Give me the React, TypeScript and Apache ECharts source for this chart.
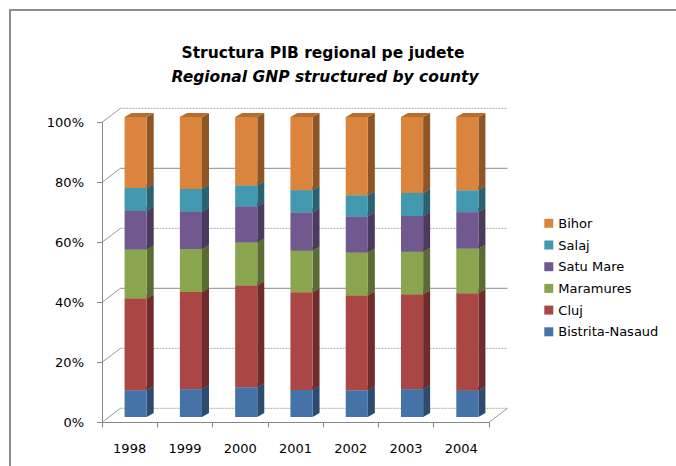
import React, { useEffect, useRef } from 'react';
import * as echarts from 'echarts';

const years = ['1998', '1999', '2000', '2001', '2002', '2003', '2004'];
const bistritaNasaud = [8.9, 9.3, 9.9, 9.0, 8.9, 9.3, 8.9];
const cluj = [30.6, 32.4, 33.9, 32.6, 31.6, 31.6, 32.5];
const maramures = [16.4, 14.3, 14.4, 13.9, 14.3, 14.2, 14.9];
const satuMare = [12.9, 12.4, 12.0, 12.7, 12.0, 11.9, 12.2];
const salaj = [7.6, 7.6, 7.0, 7.5, 7.1, 7.7, 7.3];
const bihor = [23.7, 24.0, 22.8, 24.4, 26.1, 25.3, 24.5];
const yTicks = [0, 0.2, 0.4, 0.6, 0.8, 1];
const legendOrder = ['Bihor', 'Salaj', 'Satu Mare', 'Maramures', 'Cluj', 'Bistrita-Nasaud'];

const seriesDefs = [
  { name: 'Bistrita-Nasaud', values: bistritaNasaud, front: '#4572a7', side: '#2d4a6f', top: '#3a5f8c' },
  { name: 'Cluj', values: cluj, front: '#aa4643', side: '#6e2d2c', top: '#8c3a37' },
  { name: 'Maramures', values: maramures, front: '#89a54e', side: '#5a6c33', top: '#718841' },
  { name: 'Satu Mare', values: satuMare, front: '#71588f', side: '#4a3a5e', top: '#5d4976' },
  { name: 'Salaj', values: salaj, front: '#4198af', side: '#2a6272', top: '#367d90' },
  { name: 'Bihor', values: bihor, front: '#db843d', side: '#8e5527', top: '#b86c30' },
];

const FONT = 'DejaVu Sans';
const WALL_DX = 18.5;
const WALL_DY = -14;
const BAR_DX = 6;
const BAR_DY = -5.3;
const SIDE_DX = 7;
const SIDE_DY = -4;

export default function App() {
  const ref = useRef<HTMLDivElement>(null);

  useEffect(() => {
    document.body.style.margin = '0';
    if (!ref.current) return;
    const chart = echarts.init(ref.current, null, { renderer: 'svg' });

    const totals = years.map((_, i) => seriesDefs.reduce((s, d) => s + d.values[i], 0));
    const cum = years.map(() => 0);
    const barSeries = seriesDefs.map((d) => {
      const data = d.values.map((v, i) => {
        const lo = cum[i] / totals[i];
        cum[i] += v;
        const hi = cum[i] / totals[i];
        return [i, lo, hi];
      });
      return {
        type: 'custom',
        name: d.name,
        coordinateSystem: 'cartesian2d',
        itemStyle: { color: d.front },
        z: 3,
        encode: { x: 0, y: [1, 2] },
        data,
        renderItem: (params: any, api: any) => {
          const cat = api.value(0);
          const lo = api.value(1);
          const hi = api.value(2);
          const pLo = api.coord([cat, lo]);
          const pHi = api.coord([cat, hi]);
          const w = api.size([1, 0])[0] * 0.4;
          const cx = pLo[0] + BAR_DX;
          const x0 = cx - w / 2;
          const x1 = cx + w / 2;
          const yb = pLo[1] + BAR_DY;
          const yt = pHi[1] + BAR_DY;
          return {
            type: 'group',
            children: [
              {
                type: 'polygon',
                shape: { points: [[x1, yb], [x1 + SIDE_DX, yb + SIDE_DY], [x1 + SIDE_DX, yt + SIDE_DY], [x1, yt]] },
                style: { fill: d.side },
              },
              {
                type: 'polygon',
                shape: { points: [[x0, yt], [x1, yt], [x1 + SIDE_DX, yt + SIDE_DY], [x0 + SIDE_DX, yt + SIDE_DY]] },
                style: { fill: d.top },
              },
              {
                type: 'rect',
                shape: { x: x0, y: yt, width: w, height: yb - yt },
                style: { fill: d.front },
              },
            ],
          };
        },
      };
    });

    const wallSeries = {
      type: 'custom',
      name: 'wall',
      coordinateSystem: 'cartesian2d',
      z: 1,
      silent: true,
      encode: { x: 0, y: 1 },
      data: yTicks.map((v) => [0, v]),
      renderItem: (params: any, api: any) => {
        const v = api.value(1);
        const cs = params.coordSys;
        const y = api.coord([0, v])[1];
        const gx = cs.x;
        const solid = Math.abs(v - 0.4) < 1e-6 || Math.abs(v - 0.8) < 1e-6;
        const children: any[] = [
          {
            type: 'line',
            shape: { x1: gx, y1: y, x2: gx + WALL_DX, y2: y + WALL_DY },
            style: { stroke: '#9a9a9a', lineWidth: 1 },
          },
          {
            type: 'line',
            shape: { x1: gx + WALL_DX, y1: y + WALL_DY, x2: gx + cs.width + WALL_DX, y2: y + WALL_DY },
            style: solid
              ? { stroke: '#8a8a8a', lineWidth: 1 }
              : { stroke: '#a8a8a8', lineWidth: 1, lineDash: [2, 1] },
          },
        ];
        if (v === 0) {
          children.push({
            type: 'line',
            shape: { x1: gx + cs.width, y1: y, x2: gx + cs.width + WALL_DX, y2: y + WALL_DY },
            style: { stroke: '#9a9a9a', lineWidth: 1 },
          });
        }
        return { type: 'group', children };
      },
    };

    chart.setOption({
      animation: false,
      textStyle: { fontFamily: FONT },
      title: [
        {
          text: 'Structura PIB regional pe judete',
          left: 318,
          top: 39,
          textAlign: 'center',
          textStyle: { fontFamily: FONT, fontSize: 15.5, fontWeight: 'bold', color: '#000', lineHeight: 18 },
        },
        {
          text: 'Regional GNP structured by county',
          left: 320,
          top: 63,
          textAlign: 'center',
          textStyle: { fontFamily: FONT, fontSize: 15.5, fontWeight: 'bold', fontStyle: 'italic', color: '#000', lineHeight: 18 },
        },
      ],
      legend: {
        data: legendOrder,
        orient: 'vertical',
        left: 539.3,
        top: 211.8,
        itemWidth: 9,
        itemHeight: 9,
        itemGap: 8.7,
        icon: 'rect',
        selectedMode: false,
        textStyle: { fontFamily: FONT, fontSize: 13, color: '#000', lineHeight: 13 },
      },
      graphic: [
        {
          type: 'rect',
          shape: { x: 10, y: 10, width: 720, height: 520 },
          style: { fill: 'none', stroke: '#8c8c8c', lineWidth: 2 },
          silent: true,
          z: 100,
        },
      ],
      grid: { left: 102, top: 122.3, width: 387, height: 300, containLabel: false },
      xAxis: {
        type: 'category',
        data: years,
        boundaryGap: true,
        axisLine: { lineStyle: { color: '#868686', width: 1 } },
        axisTick: { show: true, length: 5, alignWithLabel: false, lineStyle: { color: '#868686' } },
        axisLabel: { margin: 20, fontFamily: FONT, fontSize: 13, color: '#000' },
        splitLine: { show: false },
      },
      yAxis: {
        type: 'value',
        min: 0,
        max: 1,
        interval: 0.2,
        axisLine: { show: true, lineStyle: { color: '#868686', width: 1 } },
        axisTick: { show: true, length: 5, lineStyle: { color: '#868686' } },
        axisLabel: {
          margin: 18,
          fontFamily: FONT,
          fontSize: 13,
          color: '#000',
          formatter: (v: number) => Math.round(v * 100) + '%',
        },
        splitLine: { show: false },
      },
      series: [wallSeries, ...barSeries],
    });

    return () => chart.dispose();
  }, []);

  return <div ref={ref} style={{ width: 676, height: 466 }} />;
}
